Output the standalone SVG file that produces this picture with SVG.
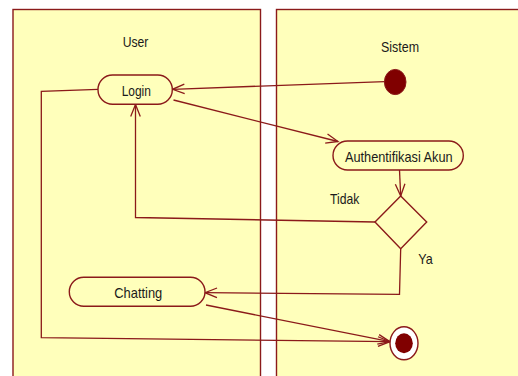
<svg xmlns="http://www.w3.org/2000/svg" width="518" height="376" viewBox="0 0 518 376">
  <defs>
    <marker id="open" markerUnits="userSpaceOnUse" markerWidth="16" markerHeight="12" viewBox="-13 -6 14 12" refX="0" refY="0" orient="auto" overflow="visible">
      <path d="M -12 -4.8 L 0 0 L -12 4.8" fill="none" stroke="#8b1a1a" stroke-width="1.3"/>
    </marker>
  </defs>
  <style>
    .lane { fill: #ffffbb; stroke: #8b1a1a; stroke-width: 1.4; }
    .act { fill: #ffffbb; stroke: #8b1a1a; stroke-width: 1.4; }
    .edge { fill: none; stroke: #8b1a1a; stroke-width: 1.3; marker-end: url(#open); }
    .lbl { font-family: "Liberation Sans", Arial, sans-serif; font-size: 14.5px; fill: #1a1a1a; text-anchor: middle; }
  </style>
  <rect width="518" height="376" fill="#ffffff"/>

  <!-- swimlanes -->
  <g id="lane-user">
    <rect class="lane" x="13" y="9.5" width="247.5" height="380"/>
    <text class="lbl" x="135.5" y="46.7" textLength="25.7" lengthAdjust="spacingAndGlyphs">User</text>
  </g>
  <g id="lane-sistem">
    <rect class="lane" x="276.5" y="9.5" width="260" height="380"/>
    <text class="lbl" x="400" y="52.3" textLength="38" lengthAdjust="spacingAndGlyphs">Sistem</text>
  </g>

  <!-- connectors -->
  <g id="connectors">
    <path class="edge" d="M 384.5 81.6 L 172.5 89.3"/>
    <path class="edge" d="M 173.5 100 L 338 141.5"/>
    <path class="edge" d="M 399.5 170 L 400.7 196"/>
    <path class="edge" d="M 375 222 L 135.5 217.5 L 135.5 104.5"/>
    <path class="edge" d="M 400.7 248.7 L 399.5 294.3 L 205 292.7"/>
    <path class="edge" d="M 206 305 L 390 341.7"/>
    <path class="edge" d="M 98 89.3 L 41.3 91.3 L 41.3 337.7 L 390 341.7"/>
    <text class="lbl" x="344.7" y="204.3" textLength="29.3" lengthAdjust="spacingAndGlyphs">Tidak</text>
    <text class="lbl" x="425.5" y="264.3" textLength="14.4" lengthAdjust="spacingAndGlyphs">Ya</text>
  </g>

  <!-- nodes -->
  <g id="start">
    <ellipse cx="395.2" cy="82" rx="10.8" ry="12.6" fill="#800000" stroke="#8b1a1a" stroke-width="1"/>
  </g>
  <g id="login">
    <rect class="act" x="98" y="75" width="74.3" height="29.3" rx="14.6"/>
    <text class="lbl" x="136.3" y="96" textLength="29.3" lengthAdjust="spacingAndGlyphs">Login</text>
  </g>
  <g id="authentifikasi">
    <rect class="act" x="333" y="141" width="130.3" height="29" rx="14.5"/>
    <text class="lbl" x="398.8" y="162" textLength="107.7" lengthAdjust="spacingAndGlyphs">Authentifikasi Akun</text>
  </g>
  <g id="decision">
    <polygon class="act" points="400.7,196 426.7,222 400.7,248.7 375,222"/>
  </g>
  <g id="chatting">
    <rect class="act" x="69.3" y="277.3" width="135.7" height="29" rx="14.5"/>
    <text class="lbl" x="138.3" y="298.3" textLength="48" lengthAdjust="spacingAndGlyphs">Chatting</text>
  </g>
  <g id="end">
    <ellipse cx="404" cy="343.3" rx="14" ry="16.5" fill="#ffffff" stroke="#8b1a1a" stroke-width="1.4"/>
    <ellipse cx="404" cy="343.3" rx="8.8" ry="10" fill="#800000"/>
  </g>
</svg>
